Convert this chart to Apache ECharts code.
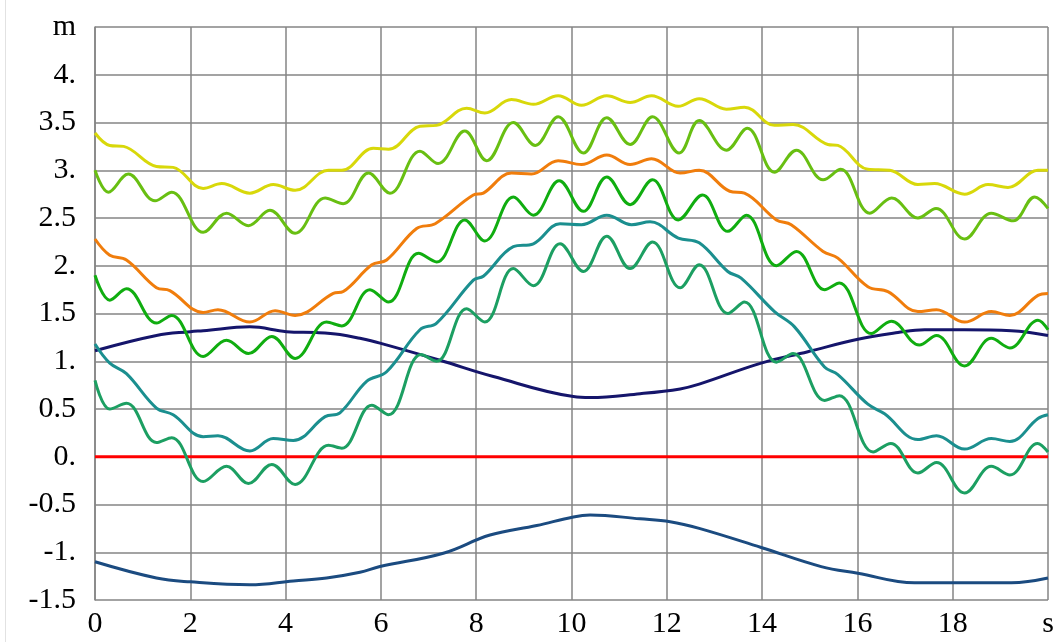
<!DOCTYPE html>
<html>
<head>
<meta charset="utf-8">
<script src="https://cdn.jsdelivr.net/npm/echarts@6/dist/echarts.min.js"></script>
<style>html,body{margin:0;padding:0;background:#fff;}#c{width:1058px;height:642px;}</style>
</head>
<body>
<div id="c"></div>
<script>
// ---- data (time in s, elevation in m) ----
const xTicks = [0, 2, 4, 6, 8, 10, 12, 14, 16, 18, 20];
const yTicks = [-1.5, -1, -0.5, 0, 0.5, 1, 1.5, 2, 2.5, 3, 3.5, 4, 4.5];
const xUnit = 's';
const yUnit = 'm';

const tYellow = [0, 0.31, 0.6, 1.29, 1.64, 2.27, 2.66, 3.25, 3.74, 4.2, 4.9, 5.18, 5.84, 6.16, 6.82, 7.17, 7.8, 8.18, 8.74, 9.2, 9.72, 10.21, 10.74, 11.23, 11.68, 12.24, 12.68, 13.25, 13.63, 14.26, 14.65, 15.38, 15.59, 16.22, 16.68, 17.27, 17.62, 18.25, 18.74, 19.16, 19.79, 20];
const vYellow = [3.39, 3.26, 3.25, 3.04, 3.03, 2.81, 2.86, 2.76, 2.85, 2.79, 3.0, 3.0, 3.23, 3.22, 3.46, 3.47, 3.65, 3.60, 3.74, 3.69, 3.78, 3.68, 3.78, 3.71, 3.78, 3.67, 3.75, 3.64, 3.66, 3.47, 3.48, 3.27, 3.26, 3.01, 3.0, 2.85, 2.86, 2.75, 2.85, 2.82, 3.0, 3.0];

const tLime = [0, 0.28, 0.7, 1.26, 1.61, 2.27, 2.76, 3.22, 3.67, 4.2, 4.83, 5.21, 5.74, 6.19, 6.82, 7.2, 7.76, 8.22, 8.78, 9.24, 9.72, 10.25, 10.74, 11.23, 11.70, 12.26, 12.68, 13.25, 13.69, 14.26, 14.72, 15.28, 15.65, 16.26, 16.72, 17.27, 17.65, 18.25, 18.81, 19.27, 19.72, 20];
const vLime = [3.0, 2.77, 2.96, 2.68, 2.77, 2.35, 2.55, 2.42, 2.58, 2.34, 2.71, 2.65, 2.97, 2.76, 3.2, 3.07, 3.41, 3.10, 3.50, 3.26, 3.56, 3.18, 3.55, 3.27, 3.56, 3.18, 3.52, 3.21, 3.44, 2.98, 3.21, 2.90, 3.01, 2.55, 2.71, 2.50, 2.60, 2.28, 2.55, 2.47, 2.72, 2.60];

const tOrange = [0, 0.31, 0.66, 1.29, 1.57, 2.27, 2.58, 3.25, 3.78, 4.2, 5.0, 5.21, 5.81, 6.12, 6.75, 7.14, 7.94, 8.15, 8.74, 9.16, 9.72, 10.21, 10.74, 11.23, 11.68, 12.28, 12.68, 13.32, 13.63, 14.3, 14.61, 15.28, 15.59, 16.22, 16.64, 17.27, 17.66, 18.25, 18.81, 19.2, 19.79, 20];
const vOrange = [2.28, 2.11, 2.06, 1.77, 1.74, 1.51, 1.54, 1.41, 1.53, 1.48, 1.71, 1.73, 2.01, 2.06, 2.39, 2.44, 2.74, 2.76, 2.97, 2.96, 3.10, 3.06, 3.16, 3.06, 3.12, 2.97, 3.0, 2.78, 2.76, 2.48, 2.43, 2.15, 2.08, 1.78, 1.73, 1.52, 1.54, 1.41, 1.52, 1.48, 1.69, 1.71];

const tGreen = [0, 0.31, 0.66, 1.29, 1.61, 2.27, 2.76, 3.22, 3.71, 4.2, 4.86, 5.18, 5.77, 6.16, 6.79, 7.17, 7.76, 8.18, 8.78, 9.2, 9.74, 10.25, 10.74, 11.23, 11.70, 12.24, 12.75, 13.28, 13.67, 14.3, 14.72, 15.31, 15.62, 16.29, 16.71, 17.3, 17.66, 18.25, 18.81, 19.2, 19.79, 20];
const vGreen = [1.90, 1.64, 1.76, 1.40, 1.48, 1.05, 1.22, 1.08, 1.26, 1.03, 1.41, 1.37, 1.75, 1.62, 2.13, 2.04, 2.48, 2.26, 2.72, 2.53, 2.89, 2.57, 2.93, 2.64, 2.90, 2.48, 2.74, 2.36, 2.53, 2.0, 2.15, 1.75, 1.82, 1.29, 1.42, 1.17, 1.27, 0.95, 1.24, 1.14, 1.43, 1.33];

const tTeal = [0, 0.31, 0.66, 1.29, 1.64, 2.27, 2.58, 3.25, 3.74, 4.16, 4.83, 5.14, 5.7, 6.12, 6.82, 7.17, 7.94, 8.15, 8.78, 9.2, 9.76, 10.21, 10.74, 11.26, 11.65, 12.24, 12.68, 13.28, 13.56, 14.26, 14.68, 15.31, 15.59, 16.22, 16.57, 17.27, 17.66, 18.25, 18.81, 19.2, 19.79, 20];
const vTeal = [1.18, 0.98, 0.87, 0.51, 0.44, 0.21, 0.22, 0.06, 0.19, 0.17, 0.42, 0.46, 0.79, 0.89, 1.33, 1.40, 1.85, 1.89, 2.20, 2.23, 2.44, 2.43, 2.53, 2.43, 2.46, 2.29, 2.24, 1.94, 1.87, 1.52, 1.36, 0.94, 0.86, 0.55, 0.45, 0.18, 0.22, 0.08, 0.19, 0.16, 0.40, 0.44];

const tSea = [0, 0.31, 0.66, 1.29, 1.61, 2.27, 2.76, 3.22, 3.71, 4.2, 4.9, 5.18, 5.81, 6.16, 6.84, 7.17, 7.8, 8.18, 8.78, 9.2, 9.76, 10.25, 10.74, 11.23, 11.70, 12.28, 12.68, 13.28, 13.63, 14.3, 14.65, 15.31, 15.62, 16.33, 16.70, 17.27, 17.66, 18.25, 18.81, 19.2, 19.78, 20];
const vSea = [0.80, 0.50, 0.56, 0.15, 0.20, -0.26, -0.10, -0.28, -0.08, -0.29, 0.12, 0.09, 0.54, 0.44, 1.07, 1.0, 1.55, 1.41, 1.97, 1.79, 2.23, 1.94, 2.31, 1.97, 2.25, 1.77, 2.01, 1.50, 1.62, 0.99, 1.08, 0.59, 0.64, 0.05, 0.14, -0.17, -0.06, -0.38, -0.10, -0.19, 0.14, 0.05];

const tNavy = [0, 1.29, 2.0, 2.27, 3.25, 4.02, 4.65, 5.14, 5.56, 5.98, 7.24, 8.36, 10.04, 10.39, 11.44, 12.28, 12.68, 13.98, 14.96, 16.01, 16.85, 17.41, 18.25, 19.23, 20];
const vNavy = [1.11, 1.27, 1.31, 1.32, 1.36, 1.31, 1.30, 1.28, 1.24, 1.19, 1.01, 0.84, 0.63, 0.62, 0.66, 0.71, 0.76, 0.98, 1.10, 1.23, 1.30, 1.33, 1.33, 1.32, 1.27];

const tBlue = [0, 1.29, 2.0, 3.25, 4.16, 4.86, 5.56, 5.98, 7.31, 8.29, 9.27, 10.04, 10.39, 11.44, 12.07, 12.68, 13.98, 15.24, 16.01, 17.2, 18.25, 19.23, 20];
const vBlue = [-1.10, -1.27, -1.31, -1.34, -1.30, -1.27, -1.21, -1.15, -1.01, -0.82, -0.72, -0.63, -0.61, -0.65, -0.68, -0.75, -0.95, -1.15, -1.22, -1.32, -1.32, -1.32, -1.27];

const tZero = [0, 20];
const vZero = [0, 0];

// ---- chart ----
const zip = (t, v) => t.map((x, i) => [x, v[i]]);
const mk = (t, v, color, smooth) => ({
  type: 'line', data: zip(t, v), showSymbol: false, smooth: smooth,
  lineStyle: { color: color, width: 3 }, itemStyle: { color: color }
});

const chart = echarts.init(document.getElementById('c'), null, { renderer: 'canvas' });
const font = 'Liberation Serif';
chart.setOption({
  animation: false,
  backgroundColor: '#fff',
  grid: { left: 95, right: 10, top: 27, bottom: 42, containLabel: false },
  xAxis: {
    type: 'value', min: xTicks[0], max: xTicks[xTicks.length - 1], interval: 2,
    axisLine: { show: true, lineStyle: { color: '#858585', width: 1.5 } },
    axisTick: { show: false },
    splitLine: { show: true, lineStyle: { color: '#858585', width: 1.5 } },
    axisLabel: {
      margin: 9, fontFamily: font, fontSize: 30, color: '#000',
      formatter: v => (Math.abs(v - 20) < 1e-9 ? xUnit : String(Math.round(v)))
    }
  },
  yAxis: {
    type: 'value', min: yTicks[0], max: yTicks[yTicks.length - 1], interval: 0.5,
    axisLine: { show: true, lineStyle: { color: '#858585', width: 1.5 } },
    axisTick: { show: false },
    splitLine: { show: true, lineStyle: { color: '#858585', width: 1.5 } },
    axisLabel: {
      margin: 19, fontFamily: font, fontSize: 30, color: '#000',
      formatter: v => {
        const r = Math.round(v * 10) / 10;
        if (Math.abs(r - 4.5) < 1e-9) return yUnit;
        return Number.isInteger(r) ? (r + '.') : String(r);
      }
    }
  },
  graphic: [{
    type: 'line', shape: { x1: 5.5, y1: 0, x2: 5.5, y2: 642 },
    style: { stroke: '#e2e2e2', lineWidth: 1 }, silent: true
  }],
  series: [
    mk(tZero, vZero, '#ff0000', false),
    mk(tBlue, vBlue, '#1b4b80', 0.4),
    mk(tNavy, vNavy, '#15156b', 0.4),
    mk(tSea, vSea, '#1c9f62', 0.38),
    mk(tTeal, vTeal, '#1b8f8f', 0.38),
    mk(tGreen, vGreen, '#10ad10', 0.38),
    mk(tOrange, vOrange, '#f07d0c', 0.38),
    mk(tLime, vLime, '#68bf12', 0.38),
    mk(tYellow, vYellow, '#d8d80a', 0.38)
  ]
});
</script>
</body>
</html>
